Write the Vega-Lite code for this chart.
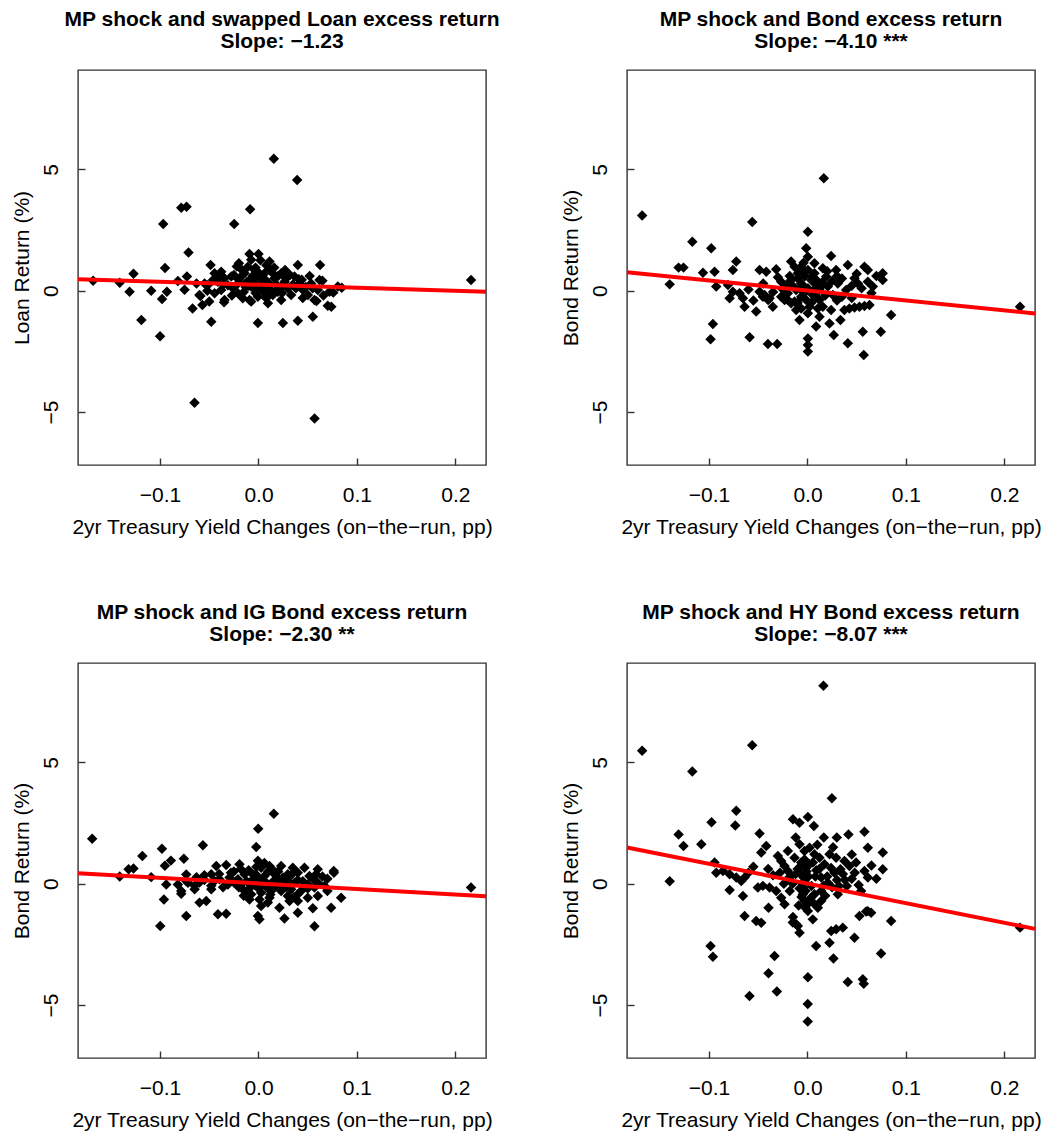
{
  "$schema": "https://vega.github.io/schema/vega-lite/v6.json",
  "background": "white",
  "padding": {"left": 10, "top": 8, "right": 5, "bottom": 5},
  "columns": 2,
  "spacing": {"row": 63, "column": 58},
  "datasets": {
    "loan": [
      {"x": 0.0156, "y": 5.43}, {"x": 0.0393, "y": 4.56}, {"x": -0.0785, "y": 3.42}, {"x": -0.0731, "y": 3.46},
      {"x": -0.0085, "y": 3.35}, {"x": -0.0968, "y": 2.75}, {"x": -0.0247, "y": 2.75}, {"x": -0.095, "y": 0.93},
      {"x": -0.127, "y": 0.70}, {"x": -0.168, "y": 0.41}, {"x": 0.216, "y": 0.44}, {"x": -0.141, "y": 0.33},
      {"x": -0.131, "y": -0.04}, {"x": -0.109, "y": 0.0}, {"x": -0.093, "y": -0.04}, {"x": -0.098, "y": -0.34},
      {"x": -0.119, "y": -1.21}, {"x": -0.100, "y": -1.88}, {"x": -0.065, "y": -4.62}, {"x": 0.057, "y": -5.26},
      {"x": -0.0711, "y": 1.57}, {"x": -0.0487, "y": 1.06}, {"x": -0.0199, "y": 1.13}, {"x": -0.0091, "y": 1.51},
      {"x": 0.0, "y": 1.51}, {"x": 0.0112, "y": 1.20}, {"x": 0.0400, "y": 1.06}, {"x": 0.0626, "y": 1.06},
      {"x": -0.0727, "y": 0.58}, {"x": -0.0819, "y": 0.40}, {"x": -0.0751, "y": 0.04}, {"x": -0.060, "y": -0.18},
      {"x": -0.067, "y": -0.73}, {"x": -0.057, "y": -0.59}, {"x": -0.050, "y": -0.45}, {"x": -0.048, "y": -1.28},
      {"x": -0.0446, "y": 0.72}, {"x": -0.0379, "y": 0.78}, {"x": -0.0413, "y": 0.37}, {"x": -0.0514, "y": 0.23},
      {"x": -0.0345, "y": 0.51}, {"x": -0.0277, "y": 0.58}, {"x": -0.0345, "y": -0.38}, {"x": -0.0379, "y": 0.03},
      {"x": -0.0446, "y": -0.11}, {"x": -0.0260, "y": 0.10}, {"x": -0.0209, "y": -0.11}, {"x": -0.0159, "y": -0.31},
      {"x": -0.0142, "y": 0.72}, {"x": -0.0108, "y": 0.99}, {"x": -0.0074, "y": 1.27}, {"x": -0.0040, "y": 0.85},
      {"x": -0.0091, "y": 0.44}, {"x": -0.0006, "y": 0.58}, {"x": -0.0074, "y": 0.17}, {"x": -0.0023, "y": 0.03},
      {"x": 0.0028, "y": 0.30}, {"x": 0.0062, "y": 0.72}, {"x": 0.0096, "y": 0.17}, {"x": 0.0130, "y": 0.85},
      {"x": 0.0163, "y": 0.51}, {"x": 0.0197, "y": -0.04}, {"x": -0.0091, "y": -0.38}, {"x": -0.0006, "y": -0.25},
      {"x": 0.0079, "y": -0.31}, {"x": 0.0146, "y": -0.18}, {"x": 0.0231, "y": 0.72}, {"x": 0.0265, "y": 0.37},
      {"x": 0.0299, "y": 0.10}, {"x": 0.0332, "y": -0.18}, {"x": 0.0231, "y": -0.38}, {"x": 0.0366, "y": 0.58},
      {"x": 0.0417, "y": 0.30}, {"x": 0.0451, "y": 0.03}, {"x": 0.0502, "y": -0.18}, {"x": 0.0535, "y": 0.30},
      {"x": 0.0603, "y": 0.03}, {"x": 0.0569, "y": -0.38}, {"x": 0.0620, "y": 0.44}, {"x": 0.0704, "y": -0.62},
      {"x": 0.0721, "y": -0.04}, {"x": 0.0806, "y": 0.17}, {"x": 0.0846, "y": 0.12}, {"x": 0.0552, "y": -1.07},
      {"x": -0.0006, "y": -1.33}, {"x": 0.0248, "y": -1.33}, {"x": 0.0400, "y": -1.24}, {"x": -0.0074, "y": -0.45},
      {"x": 0.0096, "y": -0.52}, {"x": -0.0209, "y": 0.30}, {"x": -0.0176, "y": 0.58}, {"x": -0.0548, "y": 0.30},
      {"x": -0.063, "y": 0.30}, {"x": -0.035, "y": -0.48}, {"x": -0.059, "y": -0.22}, {"x": 0.059, "y": -0.43},
      {"x": 0.065, "y": 0.41}, {"x": 0.041, "y": 0.47}, {"x": -0.005, "y": 0.35}, {"x": 0.004, "y": 0.50},
      {"x": 0.012, "y": 0.05}, {"x": -0.013, "y": 0.15}, {"x": 0.018, "y": 0.25}, {"x": 0.006, "y": -0.10},
      {"x": -0.003, "y": 0.95}, {"x": 0.027, "y": 0.85}, {"x": 0.035, "y": 0.25}, {"x": -0.020, "y": 0.45},
      {"x": 0.045, "y": -0.30}, {"x": -0.027, "y": -0.20}, {"x": 0.020, "y": 0.60}, {"x": 0.008, "y": 1.05},
      {"x": -0.031, "y": 0.22}, {"x": 0.052, "y": 0.60}, {"x": 0.076, "y": -0.08}, {"x": 0.074, "y": -0.66},
      {"x": -0.025, "y": 0.65}, {"x": -0.018, "y": 0.90}, {"x": -0.012, "y": 0.35}, {"x": -0.006, "y": 0.60},
      {"x": 0.0, "y": 0.75}, {"x": 0.003, "y": 0.10}, {"x": 0.007, "y": 0.45}, {"x": 0.011, "y": 0.30},
      {"x": 0.015, "y": 0.70}, {"x": 0.019, "y": 0.05}, {"x": 0.023, "y": 0.15}, {"x": 0.028, "y": 0.50},
      {"x": -0.003, "y": -0.10}, {"x": -0.015, "y": -0.05}, {"x": 0.010, "y": -0.20}, {"x": 0.032, "y": 0.65},
      {"x": 0.038, "y": 0.10}, {"x": 0.044, "y": 0.45}, {"x": 0.048, "y": 0.15}, {"x": -0.036, "y": 0.25},
      {"x": -0.040, "y": 0.55}, {"x": -0.022, "y": 1.00}, {"x": 0.002, "y": 1.25}, {"x": 0.016, "y": 0.95},
      {"x": -0.010, "y": 0.20}, {"x": 0.024, "y": -0.10}, {"x": 0.055, "y": 0.10}, {"x": 0.066, "y": -0.20},
      {"x": -0.046, "y": 0.45}, {"x": -0.052, "y": 0.0}
    ],
    "bond": [
      {"x": -0.168, "y": 3.10}, {"x": -0.140, "y": 0.26}, {"x": -0.117, "y": 2.02}, {"x": -0.131, "y": 0.95},
      {"x": -0.126, "y": 0.95}, {"x": 0.216, "y": -0.66}, {"x": 0.0166, "y": 4.63},
      {"x": -0.0561, "y": 2.83}, {"x": 0.0004, "y": 2.43}, {"x": -0.0978, "y": 1.75}, {"x": -0.0013, "y": 1.75},
      {"x": 0.0004, "y": 1.40}, {"x": 0.0240, "y": 1.43}, {"x": -0.0724, "y": 1.20}, {"x": -0.0758, "y": 0.85},
      {"x": -0.0944, "y": 0.78}, {"x": -0.1062, "y": 0.74}, {"x": -0.0487, "y": 0.85}, {"x": -0.0419, "y": 0.78},
      {"x": -0.0318, "y": 0.88}, {"x": -0.0166, "y": 1.20}, {"x": -0.0132, "y": 0.99}, {"x": 0.0156, "y": 0.92},
      {"x": 0.0190, "y": 0.58}, {"x": 0.0291, "y": 0.85}, {"x": 0.0410, "y": 1.06}, {"x": 0.0579, "y": 0.99},
      {"x": 0.0613, "y": 0.85}, {"x": 0.0764, "y": 0.72}, {"x": 0.0764, "y": 0.44}, {"x": 0.0478, "y": 0.51},
      {"x": 0.0512, "y": 0.30}, {"x": 0.0613, "y": 0.37}, {"x": 0.0664, "y": 0.17}, {"x": 0.0308, "y": 0.30},
      {"x": 0.0393, "y": 0.03}, {"x": 0.0207, "y": 0.17}, {"x": 0.0258, "y": -0.18}, {"x": -0.0927, "y": 0.17},
      {"x": -0.0808, "y": 0.23}, {"x": -0.0758, "y": -0.04}, {"x": -0.0690, "y": -0.11}, {"x": -0.0656, "y": -0.31},
      {"x": -0.0791, "y": -0.31}, {"x": -0.0639, "y": -0.66}, {"x": -0.0521, "y": -0.86}, {"x": -0.0487, "y": -0.04},
      {"x": -0.0436, "y": -0.18}, {"x": -0.0386, "y": -0.31}, {"x": -0.0352, "y": -0.66}, {"x": -0.0267, "y": 0.37},
      {"x": -0.0216, "y": 0.23}, {"x": -0.0233, "y": -0.38}, {"x": -0.0166, "y": -0.52}, {"x": -0.0115, "y": -0.80},
      {"x": -0.0081, "y": -1.21}, {"x": 0.0004, "y": -1.97}, {"x": 0.0004, "y": -2.24}, {"x": 0.0004, "y": -2.51},
      {"x": 0.0088, "y": -1.48}, {"x": 0.0240, "y": -0.80}, {"x": 0.0224, "y": -1.35}, {"x": 0.0267, "y": -1.83},
      {"x": 0.0335, "y": -1.21}, {"x": 0.0375, "y": -0.80}, {"x": 0.0426, "y": -0.73}, {"x": 0.0478, "y": -0.69},
      {"x": 0.0528, "y": -0.66}, {"x": 0.0579, "y": -0.63}, {"x": 0.0630, "y": -0.59}, {"x": 0.0562, "y": -1.69},
      {"x": 0.0745, "y": -1.69}, {"x": 0.0850, "y": -1.00}, {"x": 0.0410, "y": -2.17}, {"x": 0.0572, "y": -2.65},
      {"x": -0.0961, "y": -1.37}, {"x": -0.0985, "y": -2.00}, {"x": -0.0588, "y": -1.92}, {"x": -0.0402, "y": -2.20},
      {"x": -0.0308, "y": -2.20}, {"x": -0.0064, "y": 0.99}, {"x": 0.0004, "y": 0.85}, {"x": 0.0071, "y": 0.72},
      {"x": -0.0030, "y": 0.58}, {"x": 0.0038, "y": 0.44}, {"x": -0.0098, "y": 0.72}, {"x": -0.0064, "y": 0.30},
      {"x": 0.0088, "y": 0.23}, {"x": -0.0115, "y": 0.03}, {"x": 0.0004, "y": 0.10}, {"x": 0.0105, "y": -0.04},
      {"x": -0.0064, "y": -0.25}, {"x": -0.0013, "y": -0.38}, {"x": 0.0021, "y": -0.66}, {"x": 0.0004, "y": -0.93},
      {"x": 0.0122, "y": -0.38}, {"x": 0.0105, "y": -0.73}, {"x": 0.0122, "y": -1.07}, {"x": 0.0054, "y": -0.18},
      {"x": 0.0139, "y": 0.17}, {"x": -0.0166, "y": 0.44}, {"x": -0.0200, "y": -0.11}, {"x": 0.0071, "y": 1.13},
      {"x": 0.0156, "y": -0.66}, {"x": -0.0132, "y": -0.45}, {"x": -0.0064, "y": -0.73}, {"x": -0.0453, "y": -0.25},
      {"x": -0.0400, "y": -0.38}, {"x": -0.0267, "y": -0.25}, {"x": -0.0200, "y": -0.38}, {"x": -0.0600, "y": 0.05},
      {"x": 0.0300, "y": 0.60}, {"x": 0.0350, "y": -0.25}, {"x": 0.0450, "y": 0.20}, {"x": -0.0030, "y": 0.15},
      {"x": -0.010, "y": 0.50}, {"x": -0.005, "y": 0.80}, {"x": 0.005, "y": 0.60}, {"x": 0.010, "y": 0.40},
      {"x": -0.008, "y": 0.10}, {"x": 0.006, "y": 0.0}, {"x": -0.003, "y": -0.10}, {"x": 0.008, "y": -0.30},
      {"x": -0.010, "y": -0.50}, {"x": 0.004, "y": -0.50}, {"x": 0.012, "y": 0.05}, {"x": -0.004, "y": 1.15},
      {"x": 0.015, "y": 0.35}, {"x": 0.018, "y": -0.20}, {"x": -0.015, "y": 0.20}, {"x": -0.018, "y": 0.60},
      {"x": 0.020, "y": 0.80}, {"x": 0.025, "y": 0.40}, {"x": -0.025, "y": 0.05}, {"x": 0.030, "y": -0.40},
      {"x": 0.035, "y": 0.50}, {"x": -0.030, "y": 0.55}, {"x": 0.045, "y": -0.30}, {"x": 0.050, "y": 0.70},
      {"x": 0.055, "y": 0.10}, {"x": -0.045, "y": 0.30}, {"x": -0.055, "y": -0.40}, {"x": 0.065, "y": -0.10},
      {"x": 0.070, "y": 0.60}, {"x": -0.035, "y": -0.05}
    ],
    "ig": [
      {"x": 0.0156, "y": 2.88}, {"x": -0.0003, "y": 2.26}, {"x": -0.169, "y": 1.85}, {"x": -0.118, "y": 1.14},
      {"x": -0.132, "y": 0.59}, {"x": -0.127, "y": 0.63}, {"x": -0.141, "y": 0.30}, {"x": -0.109, "y": 0.27},
      {"x": -0.0998, "y": -1.74}, {"x": 0.216, "y": -0.16}, {"x": -0.0023, "y": 1.51}, {"x": -0.0565, "y": 1.58},
      {"x": -0.0981, "y": 1.44}, {"x": -0.0951, "y": 0.74}, {"x": -0.0758, "y": 1.03},
      {"x": -0.0429, "y": 0.73}, {"x": -0.0328, "y": 0.77}, {"x": -0.0193, "y": 0.80}, {"x": -0.0006, "y": 0.94},
      {"x": 0.0027, "y": 0.66}, {"x": 0.0112, "y": 0.73}, {"x": 0.0230, "y": 0.73}, {"x": 0.0349, "y": 0.66},
      {"x": 0.0467, "y": 0.66}, {"x": 0.0586, "y": 0.39}, {"x": 0.0766, "y": 0.45}, {"x": -0.0142, "y": 0.39},
      {"x": -0.0074, "y": 0.45}, {"x": 0.0061, "y": 0.32}, {"x": 0.0163, "y": 0.39}, {"x": 0.0298, "y": 0.39},
      {"x": 0.0400, "y": 0.45}, {"x": 0.0518, "y": 0.32}, {"x": -0.0480, "y": 0.39}, {"x": -0.0446, "y": 0.11},
      {"x": -0.0396, "y": 0.18}, {"x": -0.0294, "y": 0.25}, {"x": -0.0209, "y": 0.18}, {"x": -0.0311, "y": -0.03},
      {"x": -0.0176, "y": -0.03}, {"x": -0.0040, "y": -0.03}, {"x": 0.0095, "y": -0.03}, {"x": 0.0230, "y": -0.03},
      {"x": 0.0366, "y": 0.04}, {"x": 0.0501, "y": -0.03}, {"x": 0.0603, "y": 0.04}, {"x": 0.0670, "y": -0.09},
      {"x": -0.0480, "y": -0.09}, {"x": -0.0649, "y": -0.09}, {"x": -0.0717, "y": 0.04}, {"x": -0.0819, "y": -0.03},
      {"x": -0.0937, "y": -0.03}, {"x": -0.0785, "y": -0.30}, {"x": -0.0649, "y": -0.23}, {"x": -0.0480, "y": -0.23},
      {"x": -0.0142, "y": -0.30}, {"x": -0.0074, "y": -0.44}, {"x": 0.0027, "y": -0.37}, {"x": 0.0129, "y": -0.30},
      {"x": 0.0230, "y": -0.30}, {"x": 0.0332, "y": -0.23}, {"x": 0.0433, "y": -0.30}, {"x": 0.0569, "y": -0.16},
      {"x": -0.0091, "y": -0.65}, {"x": 0.0010, "y": -0.65}, {"x": 0.0112, "y": -0.58}, {"x": 0.0298, "y": -0.51},
      {"x": 0.0400, "y": -0.44}, {"x": 0.0501, "y": -0.58}, {"x": 0.0603, "y": -0.51}, {"x": -0.0599, "y": -0.78},
      {"x": -0.0531, "y": -0.71}, {"x": 0.0027, "y": -0.92}, {"x": 0.0095, "y": -0.78}, {"x": 0.0213, "y": -0.99},
      {"x": 0.0315, "y": -0.71}, {"x": 0.0400, "y": -0.71}, {"x": 0.0738, "y": -0.99}, {"x": 0.0840, "y": -0.58},
      {"x": -0.0734, "y": -1.33}, {"x": -0.0412, "y": -1.26}, {"x": -0.0328, "y": -1.24}, {"x": -0.0006, "y": -1.33},
      {"x": 0.0010, "y": -1.47}, {"x": 0.0264, "y": -1.43}, {"x": 0.0400, "y": -1.20}, {"x": 0.0569, "y": -1.75},
      {"x": -0.0961, "y": -0.65}, {"x": 0.0552, "y": -1.01}, {"x": 0.0602, "y": 0.59}, {"x": -0.0734, "y": 0.38},
      {"x": -0.0630, "y": 0.27}, {"x": -0.0785, "y": -0.41}, {"x": -0.0734, "y": 0.11}, {"x": 0.0765, "y": 0.52},
      {"x": -0.005, "y": 0.20}, {"x": 0.005, "y": 0.15}, {"x": 0.015, "y": 0.10}, {"x": -0.010, "y": 0.55},
      {"x": 0.0, "y": 0.25}, {"x": 0.020, "y": 0.20}, {"x": -0.020, "y": -0.15}, {"x": 0.008, "y": -0.15},
      {"x": 0.030, "y": 0.10}, {"x": -0.025, "y": 0.50}, {"x": 0.0, "y": -0.20}, {"x": 0.040, "y": 0.15},
      {"x": -0.0890, "y": 0.95}, {"x": -0.0550, "y": 0.35}, {"x": 0.0700, "y": 0.20}, {"x": 0.0150, "y": 0.55},
      {"x": -0.012, "y": 0.10}, {"x": -0.003, "y": 0.40}, {"x": 0.004, "y": 0.05}, {"x": 0.010, "y": 0.50},
      {"x": 0.018, "y": -0.10}, {"x": 0.025, "y": 0.25}, {"x": 0.033, "y": 0.35}, {"x": 0.045, "y": 0.10},
      {"x": 0.055, "y": 0.20}, {"x": -0.018, "y": 0.60}, {"x": -0.008, "y": -0.15}, {"x": 0.012, "y": -0.45},
      {"x": 0.028, "y": -0.15}, {"x": 0.036, "y": -0.55}, {"x": 0.050, "y": -0.20}, {"x": -0.028, "y": 0.45},
      {"x": -0.036, "y": -0.15}, {"x": -0.040, "y": 0.40}, {"x": 0.065, "y": 0.30}, {"x": 0.070, "y": -0.30},
      {"x": -0.002, "y": 0.70}, {"x": 0.020, "y": 0.50}, {"x": 0.006, "y": 0.85}, {"x": -0.015, "y": -0.50},
      {"x": -0.055, "y": 0.15}, {"x": -0.060, "y": 0.05}, {"x": -0.025, "y": 0.05}
    ],
    "hy": [
      {"x": 0.0162, "y": 8.15}, {"x": -0.168, "y": 5.48}, {"x": -0.0562, "y": 5.70}, {"x": -0.117, "y": 4.62},
      {"x": -0.131, "y": 2.03}, {"x": -0.140, "y": 0.10}, {"x": 0.216, "y": -1.81}, {"x": -0.0589, "y": -4.63},
      {"x": -0.0311, "y": -4.44}, {"x": 0.0003, "y": -4.96}, {"x": 0.0003, "y": -5.68}, {"x": 0.0248, "y": 3.52},
      {"x": -0.0724, "y": 3.00}, {"x": -0.0734, "y": 2.40}, {"x": -0.0975, "y": 2.53}, {"x": -0.126, "y": 1.55},
      {"x": -0.0148, "y": 2.65}, {"x": -0.0081, "y": 2.51}, {"x": 0.0004, "y": 2.75}, {"x": 0.0065, "y": 2.38},
      {"x": -0.0487, "y": 2.07}, {"x": -0.1079, "y": 1.62}, {"x": 0.0166, "y": 1.90}, {"x": 0.0298, "y": 1.90},
      {"x": 0.0416, "y": 2.03}, {"x": 0.0579, "y": 2.14}, {"x": 0.0613, "y": 1.48}, {"x": 0.0765, "y": 1.28},
      {"x": 0.0765, "y": 0.59}, {"x": -0.0419, "y": 1.55}, {"x": -0.0470, "y": 1.28}, {"x": -0.0301, "y": 1.14},
      {"x": -0.0267, "y": 0.93}, {"x": -0.0233, "y": 0.73}, {"x": -0.0199, "y": 0.52}, {"x": -0.0165, "y": 0.32},
      {"x": -0.0081, "y": 1.62}, {"x": -0.0030, "y": 1.35}, {"x": 0.0021, "y": 1.48}, {"x": 0.0071, "y": 1.21},
      {"x": 0.0054, "y": 0.87}, {"x": -0.0199, "y": 1.35}, {"x": -0.0132, "y": 1.07}, {"x": -0.0064, "y": 0.87},
      {"x": -0.0013, "y": 0.66}, {"x": -0.0064, "y": 0.39}, {"x": -0.0030, "y": 0.11}, {"x": -0.0047, "y": -0.16},
      {"x": -0.0047, "y": -0.44}, {"x": -0.0030, "y": -0.71}, {"x": 0.0122, "y": 1.07}, {"x": 0.0173, "y": 0.80},
      {"x": 0.0224, "y": 1.21}, {"x": 0.0291, "y": 1.07}, {"x": 0.0335, "y": 0.59}, {"x": 0.0376, "y": 0.93},
      {"x": 0.0426, "y": 0.73}, {"x": 0.0494, "y": 0.87}, {"x": 0.0274, "y": 0.45}, {"x": 0.0207, "y": 0.04},
      {"x": 0.0308, "y": -0.44}, {"x": 0.0139, "y": -0.30}, {"x": 0.0071, "y": -0.44}, {"x": 0.0579, "y": 0.52},
      {"x": 0.0613, "y": 0.25}, {"x": 0.0545, "y": -0.30}, {"x": -0.0944, "y": 0.87}, {"x": -0.0927, "y": 0.45},
      {"x": -0.0859, "y": 0.52}, {"x": -0.0791, "y": 0.39}, {"x": -0.0724, "y": 0.25}, {"x": -0.0673, "y": 0.11},
      {"x": -0.0639, "y": 0.25}, {"x": -0.0791, "y": -0.26}, {"x": -0.0656, "y": -0.51}, {"x": -0.0504, "y": -0.16},
      {"x": -0.0453, "y": -0.09}, {"x": -0.0385, "y": -0.16}, {"x": -0.0318, "y": -0.30}, {"x": -0.0267, "y": -0.58},
      {"x": -0.0233, "y": -0.85}, {"x": -0.0396, "y": -0.99}, {"x": -0.0639, "y": -1.33}, {"x": -0.0521, "y": -1.54},
      {"x": -0.0470, "y": -1.61}, {"x": -0.0148, "y": -1.37}, {"x": -0.0114, "y": -1.67}, {"x": -0.0081, "y": -2.02},
      {"x": 0.0004, "y": -1.13}, {"x": 0.0054, "y": -1.47}, {"x": 0.0105, "y": -0.99}, {"x": 0.0139, "y": -0.71},
      {"x": 0.0241, "y": -1.95}, {"x": 0.0291, "y": -1.88}, {"x": 0.0359, "y": -1.81}, {"x": 0.0224, "y": -2.43},
      {"x": 0.0477, "y": -2.23}, {"x": 0.0528, "y": -1.33}, {"x": 0.0613, "y": -1.13}, {"x": 0.0647, "y": -1.20},
      {"x": 0.0850, "y": -1.54}, {"x": 0.0088, "y": -2.57}, {"x": 0.0264, "y": -3.08}, {"x": -0.0335, "y": -2.98},
      {"x": -0.0985, "y": -2.57}, {"x": -0.0961, "y": -3.01}, {"x": -0.0396, "y": -3.69}, {"x": 0.0004, "y": -3.85},
      {"x": 0.0410, "y": -4.05}, {"x": 0.0562, "y": -3.94}, {"x": 0.0572, "y": -4.12}, {"x": 0.0748, "y": -2.88},
      {"x": -0.005, "y": 0.00}, {"x": -0.002, "y": -0.30}, {"x": -0.006, "y": -0.55}, {"x": 0.0, "y": -0.85},
      {"x": -0.004, "y": 0.25}, {"x": -0.001, "y": 0.50}, {"x": 0.004, "y": -0.10}, {"x": -0.008, "y": -0.20},
      {"x": 0.002, "y": 0.80}, {"x": -0.010, "y": 0.60}, {"x": 0.008, "y": 0.30}, {"x": 0.012, "y": 0.60},
      {"x": -0.015, "y": 0.00}, {"x": 0.016, "y": -0.10}, {"x": 0.020, "y": 0.30}, {"x": -0.020, "y": 0.20},
      {"x": 0.025, "y": -0.15}, {"x": 0.030, "y": 0.15}, {"x": 0.036, "y": 0.40}, {"x": 0.045, "y": 0.20},
      {"x": 0.040, "y": -0.10}, {"x": -0.0149, "y": -1.60}, {"x": -0.0098, "y": -1.74}, {"x": 0.0596, "y": -1.15},
      {"x": -0.003, "y": 1.00}, {"x": -0.006, "y": 0.75}, {"x": 0.001, "y": 0.30}, {"x": -0.002, "y": -1.00},
      {"x": 0.003, "y": -0.60}, {"x": -0.009, "y": -0.90}, {"x": 0.006, "y": -0.80}, {"x": -0.012, "y": 0.40},
      {"x": 0.009, "y": 0.55}, {"x": 0.014, "y": 0.25}, {"x": -0.018, "y": -0.30}, {"x": 0.018, "y": -0.50},
      {"x": 0.024, "y": 0.65}, {"x": -0.024, "y": 0.00}, {"x": 0.032, "y": -0.10}, {"x": 0.038, "y": 0.15},
      {"x": 0.048, "y": 0.45}, {"x": 0.052, "y": -0.05}, {"x": -0.035, "y": 0.35}, {"x": -0.040, "y": 0.60},
      {"x": -0.028, "y": 0.45}, {"x": -0.055, "y": 0.70}, {"x": -0.060, "y": 0.45}, {"x": 0.010, "y": 1.60},
      {"x": 0.026, "y": 1.50}, {"x": 0.045, "y": 1.20}, {"x": -0.012, "y": 1.90}, {"x": 0.065, "y": 0.75},
      {"x": 0.070, "y": 0.20}
    ],
    "fits": [
      {"p": "loan", "x": -0.1834, "y": 0.47}, {"p": "loan", "x": 0.2312, "y": -0.04},
      {"p": "bond", "x": -0.1834, "y": 0.76}, {"p": "bond", "x": 0.2312, "y": -0.94},
      {"p": "ig", "x": -0.1834, "y": 0.43}, {"p": "ig", "x": 0.2312, "y": -0.52},
      {"p": "hy", "x": -0.1834, "y": 1.49}, {"p": "hy", "x": 0.2312, "y": -1.86}
    ]
  },
  "concat": [
    {
      "width": 408, "height": 395,
      "title": {"text": ["MP shock and swapped Loan excess return", "Slope: −1.23"]},
      "layer": [
        {"data": {"name": "loan"}, "mark": {"type": "point", "shape": "diamond", "filled": true, "size": 110, "color": "#000", "opacity": 1},
         "encoding": {
           "x": {"field": "x", "type": "quantitative", "scale": {"domain": [-0.1834, 0.2312], "nice": false, "zero": false}, "axis": {"title": "2yr Treasury Yield Changes (on−the−run, pp)", "values": [-0.1, 0, 0.1, 0.2], "format": ".1f"}},
           "y": {"field": "y", "type": "quantitative", "scale": {"domain": [-7.18, 9.09], "nice": false, "zero": false}, "axis": {"title": "Loan Return (%)", "values": [-5, 0, 5]}}}},
        {"data": {"name": "fits"}, "transform": [{"filter": "datum.p === 'loan'"}], "mark": {"type": "line", "color": "#ff0000", "strokeWidth": 4},
         "encoding": {"x": {"field": "x", "type": "quantitative"}, "y": {"field": "y", "type": "quantitative"}}}
      ]
    },
    {
      "width": 408, "height": 395,
      "title": {"text": ["MP shock and Bond excess return", "Slope: −4.10 ***"]},
      "layer": [
        {"data": {"name": "bond"}, "mark": {"type": "point", "shape": "diamond", "filled": true, "size": 110, "color": "#000", "opacity": 1},
         "encoding": {
           "x": {"field": "x", "type": "quantitative", "scale": {"domain": [-0.1834, 0.2312], "nice": false, "zero": false}, "axis": {"title": "2yr Treasury Yield Changes (on−the−run, pp)", "values": [-0.1, 0, 0.1, 0.2], "format": ".1f"}},
           "y": {"field": "y", "type": "quantitative", "scale": {"domain": [-7.18, 9.09], "nice": false, "zero": false}, "axis": {"title": "Bond Return (%)", "values": [-5, 0, 5]}}}},
        {"data": {"name": "fits"}, "transform": [{"filter": "datum.p === 'bond'"}], "mark": {"type": "line", "color": "#ff0000", "strokeWidth": 4},
         "encoding": {"x": {"field": "x", "type": "quantitative"}, "y": {"field": "y", "type": "quantitative"}}}
      ]
    },
    {
      "width": 408, "height": 395,
      "title": {"text": ["MP shock and IG Bond excess return", "Slope: −2.30 **"]},
      "layer": [
        {"data": {"name": "ig"}, "mark": {"type": "point", "shape": "diamond", "filled": true, "size": 110, "color": "#000", "opacity": 1},
         "encoding": {
           "x": {"field": "x", "type": "quantitative", "scale": {"domain": [-0.1834, 0.2312], "nice": false, "zero": false}, "axis": {"title": "2yr Treasury Yield Changes (on−the−run, pp)", "values": [-0.1, 0, 0.1, 0.2], "format": ".1f"}},
           "y": {"field": "y", "type": "quantitative", "scale": {"domain": [-7.18, 9.09], "nice": false, "zero": false}, "axis": {"title": "Bond Return (%)", "values": [-5, 0, 5]}}}},
        {"data": {"name": "fits"}, "transform": [{"filter": "datum.p === 'ig'"}], "mark": {"type": "line", "color": "#ff0000", "strokeWidth": 4},
         "encoding": {"x": {"field": "x", "type": "quantitative"}, "y": {"field": "y", "type": "quantitative"}}}
      ]
    },
    {
      "width": 408, "height": 395,
      "title": {"text": ["MP shock and HY Bond excess return", "Slope: −8.07 ***"]},
      "layer": [
        {"data": {"name": "hy"}, "mark": {"type": "point", "shape": "diamond", "filled": true, "size": 110, "color": "#000", "opacity": 1},
         "encoding": {
           "x": {"field": "x", "type": "quantitative", "scale": {"domain": [-0.1834, 0.2312], "nice": false, "zero": false}, "axis": {"title": "2yr Treasury Yield Changes (on−the−run, pp)", "values": [-0.1, 0, 0.1, 0.2], "format": ".1f"}},
           "y": {"field": "y", "type": "quantitative", "scale": {"domain": [-7.18, 9.09], "nice": false, "zero": false}, "axis": {"title": "Bond Return (%)", "values": [-5, 0, 5]}}}},
        {"data": {"name": "fits"}, "transform": [{"filter": "datum.p === 'hy'"}], "mark": {"type": "line", "color": "#ff0000", "strokeWidth": 4},
         "encoding": {"x": {"field": "x", "type": "quantitative"}, "y": {"field": "y", "type": "quantitative"}}}
      ]
    }
  ],
  "config": {
    "view": {"stroke": "#333333", "strokeWidth": 1.4},
    "axis": {"grid": false, "domain": false, "labelFont": "Liberation Sans", "titleFont": "Liberation Sans", "labelFontSize": 21, "titleFontSize": 21, "titleFontWeight": "normal", "labelColor": "#000000", "titleColor": "#000000", "tickColor": "#333333", "tickSize": -7, "tickWidth": 1.4},
    "axisX": {"labelPadding": 26, "titlePadding": 11},
    "axisY": {"labelAngle": -90, "labelPadding": 24, "titlePadding": 8},
    "title": {"font": "Liberation Sans", "fontSize": 21, "fontWeight": "bold", "color": "#000000", "lineHeight": 22, "frame": "group", "anchor": "middle", "offset": 18}
  }
}
